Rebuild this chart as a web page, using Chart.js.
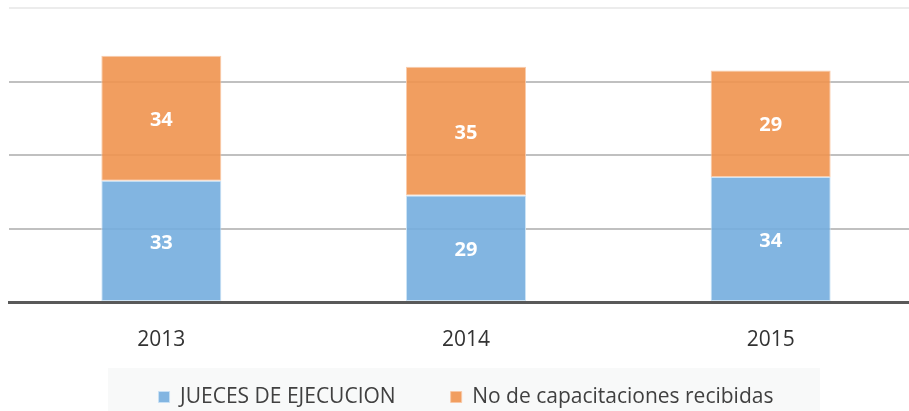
<!DOCTYPE html>
<html>
<head>
<meta charset="utf-8">
<script src="https://cdn.jsdelivr.net/npm/chart.js@4"></script>
<style>
  html, body { margin: 0; padding: 0; background: #fff; overflow: hidden; }
  #wrap { width: 923px; height: 411px; }
</style>
</head>
<body>
<div id="wrap"><canvas id="chart"></canvas></div>
<script>
// data
const years = ['2013', '2014', '2015'];
const jueces = [33, 29, 34];
const capacitaciones = [34, 35, 29];
const yTicks = [0, 20, 40, 60, 80];

// white numbers in the middle of each segment
const segmentLabels = {
    id: 'segmentLabels',
    afterDatasetsDraw(chart) {
        const ctx = chart.ctx;
        ctx.save();
        ctx.fillStyle = '#ffffff';
        ctx.font = 'bold 20px "Open Sans", sans-serif';
        ctx.textAlign = 'center';
        ctx.textBaseline = 'middle';
        chart.data.datasets.forEach((ds, i) => {
            chart.getDatasetMeta(i).data.forEach((bar, j) => {
                const mid = (bar.y + bar.base) / 2 + 2;
                ctx.fillText(ds.data[j], bar.x, mid);
            });
        });
        ctx.restore();
    }
};

// faint grey panel behind the legend, and legend pulled up a little
const legendPanel = {
    id: 'legendPanel',
    afterLayout(chart) {
        const lg = chart.legend;
        const pad = lg.options.labels.padding;
        const size = lg.options.labels.font.size;
        const shift = lg.top + pad + size / 2 - 397;
        lg.top -= shift;
        lg.bottom -= shift;
    },
    beforeDraw(chart) {
        const ctx = chart.ctx;
        ctx.save();
        ctx.fillStyle = '#f8f9f9';
        ctx.fillRect(108, 368, 712, chart.height - 368);
        ctx.restore();
    }
};

new Chart(document.getElementById('chart'), {
    type: 'bar',
    data: {
        labels: years,
        datasets: [
            {
                label: 'JUECES DE EJECUCION',
                data: jueces,
                backgroundColor: 'rgba(116, 173, 222, 0.9)',
                borderColor: 'rgba(200, 225, 245, 0.9)',
                borderWidth: 1,
                borderSkipped: false
            },
            {
                label: 'No de capacitaciones recibidas',
                data: capacitaciones,
                backgroundColor: 'rgba(240, 148, 79, 0.9)',
                borderColor: 'rgba(248, 200, 165, 0.9)',
                borderWidth: 1,
                borderSkipped: false
            }
        ]
    },
    options: {
        responsive: true,
        maintainAspectRatio: false,
        animation: false,
        layout: { padding: { top: 8, left: 9, right: 0, bottom: -27 } },
        datasets: { bar: { barPercentage: 0.394, categoryPercentage: 1 } },
        scales: {
            x: {
                stacked: true,
                grid: { display: false, drawTicks: false },
                border: { display: true, color: '#595959', width: 3 },
                afterFit: (axis) => { axis.height = 50; },
                ticks: {
                    color: '#333333',
                    font: { family: '"Open Sans", sans-serif', size: 21 },
                    padding: 25
                }
            },
            y: {
                stacked: true,
                min: 0,
                max: 80,
                afterBuildTicks: (axis) => { axis.ticks = yTicks.map(v => ({ value: v })); },
                ticks: { display: false },
                border: { display: false },
                grid: {
                    color: (c) => c.tick && c.tick.value === 80 ? '#ececec' : '#c0c0c0',
                    lineWidth: 2,
                    drawTicks: false
                }
            }
        },
        plugins: {
            legend: {
                position: 'bottom',
                labels: {
                    color: '#404040',
                    boxWidth: 11,
                    boxHeight: 11,
                    padding: 55,
                    font: { family: '"Open Sans", sans-serif', size: 21 }
                }
            },
            tooltip: { enabled: false }
        }
    },
    plugins: [segmentLabels, legendPanel]
});
</script>
</body>
</html>
